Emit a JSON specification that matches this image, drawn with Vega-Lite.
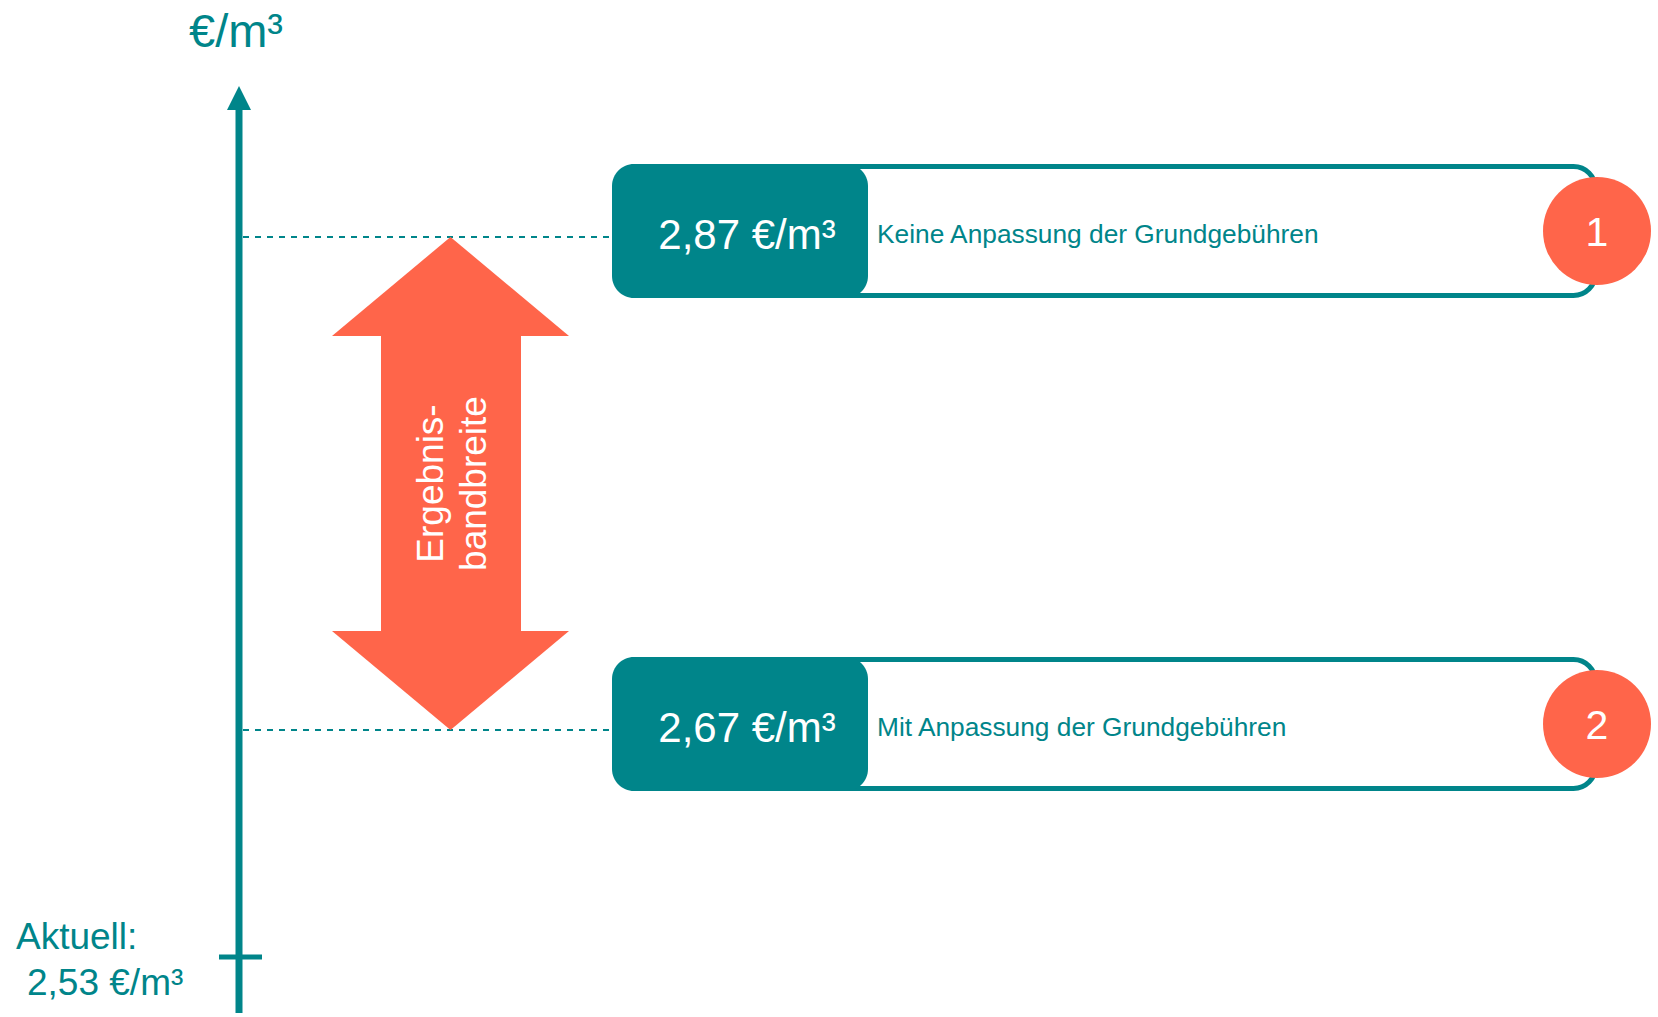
{
  "$schema": "https://vega.github.io/schema/vega-lite/v6.json",
  "width": 1658,
  "height": 1017,
  "padding": 0,
  "autosize": {"type": "none"},
  "background": "white",
  "config": {"view": {"stroke": null}, "text": {"font": "Liberation Sans"}},
  "datasets": {
    "scenarios": [
      {"id": "1", "value": 2.87, "price": "2,87 €/m³", "desc": "Keine Anpassung der Grundgebühren"},
      {"id": "2", "value": 2.67, "price": "2,67 €/m³", "desc": "Mit Anpassung der Grundgebühren"}
    ],
    "current": [{"value": 2.53, "label": "Aktuell:", "price": "2,53 €/m³"}],
    "axisinfo": [{"unit": "€/m³"}]
  },
  "layer": [
    {
      "data": {"name": "axisinfo"},
      "mark": {"type": "rule", "color": "#00858A", "strokeWidth": 7},
      "encoding": {"x": {"value": 239}, "y": {"value": 1013}, "y2": {"value": 106}}
    },
    {
      "data": {"name": "axisinfo"},
      "mark": {"type": "point", "shape": "M0,-1L1,1L-1,1Z", "size": 576, "filled": true, "opacity": 1, "color": "#00858A", "strokeWidth": 0},
      "encoding": {"x": {"value": 239}, "y": {"value": 98}}
    },
    {
      "data": {"name": "axisinfo"},
      "mark": {"type": "text", "fontSize": 47, "color": "#00858A", "align": "center", "baseline": "alphabetic"},
      "encoding": {"x": {"value": 236}, "y": {"value": 47}, "text": {"field": "unit"}}
    },
    {
      "data": {"name": "current"},
      "mark": {"type": "rule", "color": "#00858A", "strokeWidth": 5},
      "encoding": {
        "y": {"field": "value", "type": "quantitative", "axis": null, "scale": {"domain": [2.53, 2.67, 2.87], "range": [957, 730, 237], "zero": false, "nice": false}},
        "x": {"value": 219},
        "x2": {"value": 262}
      }
    },
    {
      "data": {"name": "current"},
      "mark": {"type": "text", "fontSize": 37, "color": "#00858A", "align": "left", "baseline": "alphabetic", "dy": -8},
      "encoding": {
        "y": {"field": "value", "type": "quantitative", "axis": null},
        "x": {"value": 16},
        "text": {"field": "label"}
      }
    },
    {
      "data": {"name": "current"},
      "mark": {"type": "text", "fontSize": 37, "color": "#00858A", "align": "left", "baseline": "alphabetic", "dy": 38},
      "encoding": {
        "y": {"field": "value", "type": "quantitative", "axis": null},
        "x": {"value": 27},
        "text": {"field": "price"}
      }
    },
    {
      "data": {"name": "scenarios"},
      "mark": {"type": "rule", "color": "#00858A", "strokeWidth": 2, "strokeDash": [6, 6]},
      "encoding": {
        "y": {"field": "value", "type": "quantitative", "axis": null},
        "x": {"value": 243},
        "x2": {"value": 612}
      }
    },
    {
      "data": {"name": "scenarios"},
      "mark": {"type": "rect", "fill": "white", "stroke": "#00858A", "strokeWidth": 5, "cornerRadius": 22, "yOffset": -70.5, "y2Offset": 58.5},
      "encoding": {
        "y": {"field": "value", "type": "quantitative", "axis": null},
        "y2": {"field": "value"},
        "x": {"value": 615},
        "x2": {"value": 1595.5}
      }
    },
    {
      "data": {"name": "scenarios"},
      "mark": {"type": "rect", "fill": "#00858A", "cornerRadius": 22, "yOffset": -73, "y2Offset": 61},
      "encoding": {
        "y": {"field": "value", "type": "quantitative", "axis": null},
        "y2": {"field": "value"},
        "x": {"value": 612},
        "x2": {"value": 868}
      }
    },
    {
      "data": {"name": "scenarios"},
      "mark": {"type": "text", "fontSize": 42, "color": "white", "align": "center", "baseline": "alphabetic", "dy": 12},
      "encoding": {
        "y": {"field": "value", "type": "quantitative", "axis": null},
        "x": {"value": 747},
        "text": {"field": "price"}
      }
    },
    {
      "data": {"name": "scenarios"},
      "mark": {"type": "text", "fontSize": 26.3, "color": "#00858A", "align": "left", "baseline": "alphabetic", "dy": 6},
      "encoding": {
        "y": {"field": "value", "type": "quantitative", "axis": null},
        "x": {"value": 877},
        "text": {"field": "desc"}
      }
    },
    {
      "data": {"name": "scenarios"},
      "mark": {"type": "circle", "size": 11664, "opacity": 1, "color": "#FF654A", "yOffset": -6},
      "encoding": {
        "y": {"field": "value", "type": "quantitative", "axis": null},
        "x": {"value": 1597}
      }
    },
    {
      "data": {"name": "scenarios"},
      "mark": {"type": "text", "fontSize": 41, "color": "white", "align": "center", "baseline": "alphabetic", "dy": 9},
      "encoding": {
        "y": {"field": "value", "type": "quantitative", "axis": null},
        "x": {"value": 1597},
        "text": {"field": "id"}
      }
    },
    {
      "data": {"name": "scenarios"},
      "transform": [{"aggregate": [{"op": "max", "field": "value", "as": "hi"}, {"op": "min", "field": "value", "as": "lo"}]}],
      "mark": {"type": "rect", "color": "#FF654A", "yOffset": 97, "y2Offset": -97},
      "encoding": {
        "y": {"field": "hi", "type": "quantitative", "axis": null},
        "y2": {"field": "lo"},
        "x": {"value": 381},
        "x2": {"value": 521}
      }
    },
    {
      "data": {"name": "scenarios"},
      "transform": [{"aggregate": [{"op": "max", "field": "value", "as": "hi"}]}],
      "mark": {"type": "point", "shape": "M0,0L1,0.835L-1,0.835Z", "size": 56169, "filled": true, "opacity": 1, "color": "#FF654A", "strokeWidth": 0},
      "encoding": {
        "y": {"field": "hi", "type": "quantitative", "axis": null},
        "x": {"value": 450.5}
      }
    },
    {
      "data": {"name": "scenarios"},
      "transform": [{"aggregate": [{"op": "min", "field": "value", "as": "lo"}]}],
      "mark": {"type": "point", "shape": "M0,0L1,-0.835L-1,-0.835Z", "size": 56169, "filled": true, "opacity": 1, "color": "#FF654A", "strokeWidth": 0},
      "encoding": {
        "y": {"field": "lo", "type": "quantitative", "axis": null},
        "x": {"value": 450.5}
      }
    },
    {
      "data": {"name": "scenarios"},
      "transform": [
        {"aggregate": [{"op": "max", "field": "value", "as": "hi"}, {"op": "min", "field": "value", "as": "lo"}]},
        {"calculate": "(datum.hi + datum.lo) / 2", "as": "mid"},
        {"calculate": "['Ergebnis-', 'bandbreite']", "as": "label"}
      ],
      "mark": {"type": "text", "fontSize": 37, "color": "white", "align": "center", "baseline": "middle", "angle": 270, "lineHeight": 43},
      "encoding": {
        "y": {"field": "mid", "type": "quantitative", "axis": null},
        "x": {"value": 432},
        "text": {"field": "label"}
      }
    }
  ]
}
